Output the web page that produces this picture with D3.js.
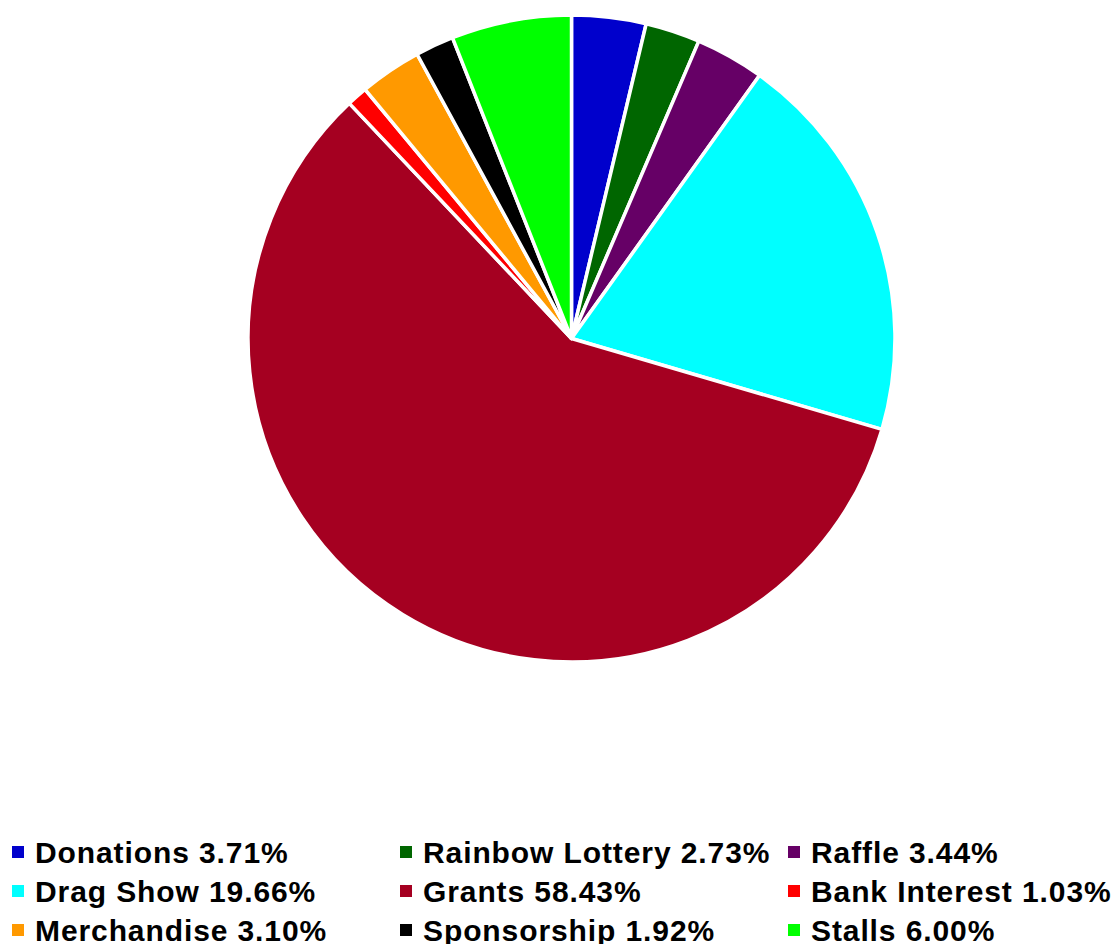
<!DOCTYPE html>
<html>
<head>
<meta charset="utf-8">
<script src="https://cdn.jsdelivr.net/npm/d3@7"></script>
<style>
  html, body { margin: 0; padding: 0; background: #fff; }
  svg { display: block; }
</style>
</head>
<body>
<svg id="chart" width="1115" height="944"></svg>
<script>
const categories = ["Donations", "Rainbow Lottery", "Raffle", "Drag Show", "Grants", "Bank Interest", "Merchandise", "Sponsorship", "Stalls"];
const values = [3.71, 2.73, 3.44, 19.66, 58.43, 1.03, 3.10, 1.92, 6.00];
const colors = ["#0000CC", "#006600", "#660066", "#00FFFF", "#A50021", "#FF0000", "#FF9900", "#000000", "#00FF00"];
const legendLabels = categories.map((c, i) => c + " " + values[i].toFixed(2) + "%");

const svg = d3.select("#chart");
const cx = 571.5, cy = 338.5, r = 323.5;

const data = categories.map((c, i) => ({ name: c, value: values[i], color: colors[i], label: legendLabels[i] }));

const pie = d3.pie().value(d => d.value).sort(null);
const arc = d3.arc().innerRadius(0).outerRadius(r);

svg.append("g")
  .attr("transform", `translate(${cx},${cy})`)
  .selectAll("path")
  .data(pie(data))
  .join("path")
  .attr("d", arc)
  .attr("fill", d => d.data.color)
  .attr("stroke", "#fff")
  .attr("stroke-width", 3.5)
  .attr("stroke-linejoin", "round");

// legend
const colX = d3.scalePoint().domain([0, 1, 2]).range([12, 788]);
const rowY = d3.scalePoint().domain([0, 1, 2]).range([863, 941]);

const lg = svg.append("g")
  .selectAll("g")
  .data(data)
  .join("g")
  .attr("transform", (d, i) => `translate(${colX(i % 3)},${rowY(Math.floor(i / 3))})`);

lg.append("rect")
  .attr("x", 0).attr("y", -17)
  .attr("width", 12).attr("height", 12)
  .attr("fill", d => d.color);

lg.append("text")
  .attr("x", 23).attr("y", 0)
  .attr("font-family", "Liberation Sans, Arial, sans-serif")
  .attr("font-weight", "bold")
  .attr("font-size", 30)
  .attr("letter-spacing", 0.9)
  .attr("fill", "#000")
  .text(d => d.label);
</script>
</body>
</html>
